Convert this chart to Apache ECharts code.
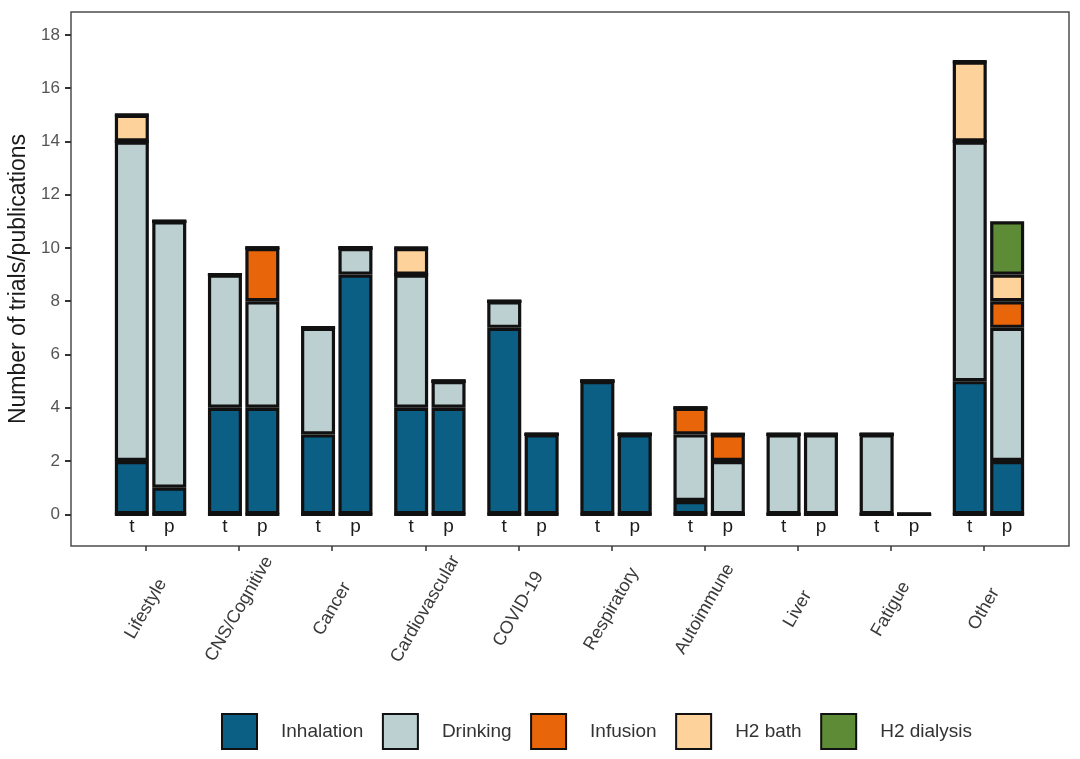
<!DOCTYPE html>
<html>
<head>
<meta charset="utf-8">
<script src="https://cdn.jsdelivr.net/npm/echarts@6/dist/echarts.min.js"></script>
<style>html,body{margin:0;padding:0;background:#fff}#c{width:1080px;height:759px}</style>
</head>
<body>
<div id="c"></div>
<script>
const categories = ['Lifestyle','CNS/Cognitive','Cancer','Cardiovascular','COVID-19','Respiratory','Autoimmune','Liver','Fatigue','Other'];
const barLabels = ['t', 'p'];
const methods = ['Inhalation', 'Drinking', 'Infusion', 'H2 bath', 'H2 dialysis'];
const colors = ['#0b5e84', '#bccfd1', '#e8650a', '#fdd29b', '#5e8c36'];
const yTicks = [0, 2, 4, 6, 8, 10, 12, 14, 16, 18];

// trials (t)
const trialsInhalation = [2, 4, 3, 4, 7, 5, 0.5, 0, 0, 5];
const trialsDrinking   = [12, 5, 4, 5, 1, 0, 2.5, 3, 3, 9];
const trialsInfusion   = [0, 0, 0, 0, 0, 0, 1, 0, 0, 0];
const trialsBath       = [1, 0, 0, 1, 0, 0, 0, 0, 0, 3];
const trialsDialysis   = [0, 0, 0, 0, 0, 0, 0, 0, 0, 0];
// publications (p)
const pubsInhalation = [1, 4, 9, 4, 3, 3, 0, 0, 0, 2];
const pubsDrinking   = [10, 4, 1, 1, 0, 0, 2, 3, 0, 5];
const pubsInfusion   = [0, 2, 0, 0, 0, 0, 1, 0, 0, 1];
const pubsBath       = [0, 0, 0, 0, 0, 0, 0, 0, 0, 1];
const pubsDialysis   = [0, 0, 0, 0, 0, 0, 0, 0, 0, 2];

const stacks = {
  t: [trialsInhalation, trialsDrinking, trialsInfusion, trialsBath, trialsDialysis],
  p: [pubsInhalation, pubsDrinking, pubsInfusion, pubsBath, pubsDialysis]
};

const YMIN = -1.19, YMAX = 18.86;
const BAR_W = 34, BAR_GAP = '10%';
const border = { borderColor: '#111', borderWidth: 3.2 };

const series = [];
barLabels.forEach(function (s) {
  series.push({
    type: 'bar', name: s + '_label', stack: s, xAxisIndex: 0, yAxisIndex: 0,
    barWidth: BAR_W, barGap: BAR_GAP,
    data: categories.map(function () { return 0; }),
    itemStyle: Object.assign({ color: 'rgba(0,0,0,0)' }, border),
    label: { show: true, position: 'bottom', distance: 1, formatter: s, fontSize: 19, color: '#1a1a1a', fontFamily: 'Liberation Sans' },
    emphasis: { disabled: true }, silent: true
  });
  methods.forEach(function (m, i) {
    series.push({
      type: 'bar', name: m, stack: s, xAxisIndex: 0, yAxisIndex: 0,
      barWidth: BAR_W, barGap: BAR_GAP,
      data: stacks[s][i],
      itemStyle: Object.assign({ color: colors[i] }, border),
      emphasis: { disabled: true }
    });
  });
});

const chart = echarts.init(document.getElementById('c'), null, { renderer: 'canvas' });
chart.setOption({
  animation: false,
  backgroundColor: '#fff',
  textStyle: { fontFamily: 'Liberation Sans' },
  color: colors,
  grid: [
    { left: 104, right: 45, top: 12, bottom: 213, outerBoundsMode: 'none', containLabel: false },
    { left: 71, right: 11, top: 12, bottom: 213, outerBoundsMode: 'none', containLabel: false, show: true, borderColor: '#4d4d4d', borderWidth: 1.5, backgroundColor: 'rgba(0,0,0,0)' }
  ],
  xAxis: [
    { type: 'category', gridIndex: 0, data: categories, axisLine: { show: false, onZero: false }, axisTick: { show: false }, axisLabel: { show: false }, splitLine: { show: false } },
    { type: 'value', gridIndex: 1, min: -0.806, max: 9.914,
      axisLine: { show: false, onZero: false }, splitLine: { show: false },
      axisTick: { show: true, length: 5, customValues: categories.map(function (c, i) { return i; }), lineStyle: { color: '#333', width: 1.5 } },
      axisLabel: { show: true, rotate: 60, margin: 63, fontSize: 18, color: '#3a3a3a', align: 'center', verticalAlign: 'middle',
        customValues: categories.map(function (c, i) { return i; }),
        formatter: function (v) { return categories[Math.round(v)]; } } }
  ],
  yAxis: [
    { type: 'value', gridIndex: 0, min: YMIN, max: YMAX, show: false, splitLine: { show: false } },
    { type: 'value', gridIndex: 1, min: YMIN, max: YMAX,
      axisLine: { show: false, onZero: false }, splitLine: { show: false },
      axisTick: { show: true, length: 6, customValues: yTicks, lineStyle: { color: '#333', width: 2 } },
      axisLabel: { show: true, customValues: yTicks, fontSize: 17, color: '#555', margin: 11 },
      name: 'Number of trials/publications', nameLocation: 'middle', nameGap: 40,
      nameTextStyle: { fontSize: 23, color: '#1a1a1a' } }
  ],
  legend: {
    data: methods,
    left: 221, top: 713, padding: 0,
    itemWidth: 35, itemHeight: 35, itemGap: 18.5,
    icon: 'rect',
    textStyle: { fontSize: 19, color: '#333', padding: [0, 0, 0, 19] },
    selectedMode: false
  },
  series: series
});
</script>
</body>
</html>
